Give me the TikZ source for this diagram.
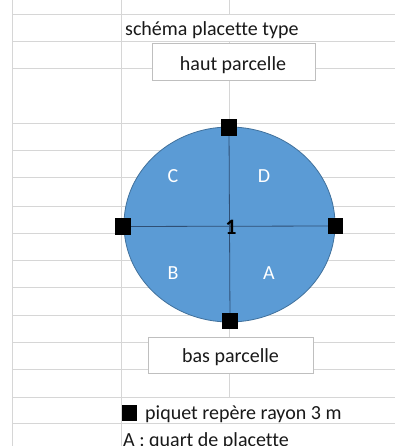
\documentclass[tikz,border=0pt]{standalone}
\usepackage{fontspec}
\setmainfont{Carlito}[Ligatures={NoCommon}]
\usetikzlibrary{shapes.geometric}
\definecolor{gridgray}{HTML}{D6D6D6}
\definecolor{boxgray}{HTML}{BFBFBF}
\definecolor{plotfill}{HTML}{5B9BD5}
\definecolor{plotedge}{HTML}{41719C}
\definecolor{crossline}{HTML}{2F4F75}
\tikzset{
  gridline/.style={draw=gridgray, line width=1pt},
  labelbox/.style={draw=boxgray, fill=white, line width=0.8pt, inner sep=0pt},
  sheettext/.style={font=\fontsize{20}{24}\selectfont, inner sep=0pt, text=black!90},
  quarter/.style={font=\fontsize{20}{24}\selectfont, inner sep=0pt, text=white},
  stake/.style={fill=black, draw=none, minimum width=15pt, minimum height=16pt, inner sep=0pt},
}
\begin{document}
\begin{tikzpicture}[x=1pt, y=-1pt]
\useasboundingbox (0,0) rectangle (395,446);
\fill[white] (0,0) rectangle (395,446);
\clip (0,0) rectangle (395,446);

% spreadsheet grid
\foreach \yy in {15,42,69,124,151,178,206,233,260,287,315,342,369,397,423}
  \draw[gridline] (12,\yy) -- (395,\yy);
\draw[gridline] (12,0) -- (12,446);
\draw[gridline] (121,0) -- (121,446);
\draw[gridline] (229.5,0) -- (229.5,15);
\draw[gridline] (229.5,42) -- (229.5,397);

% title cell
\node[sheettext, anchor=base west] (title) at (125,35.7) {schéma placette type};

% top and bottom labels
\node[labelbox, minimum width=163pt, minimum height=37pt] (haut) at (233.5,61.5) {};
\node[sheettext, anchor=base] (hauttxt) at (233,71) {haut parcelle};
\node[labelbox, minimum width=165pt, minimum height=36pt] (bas) at (230.5,355) {};
\node[sheettext, anchor=base] (bastxt) at (230.5,362) {bas parcelle};

% plot circle
\node[ellipse, fill=plotfill, draw=plotedge, line width=0.8pt,
      minimum width=211pt, minimum height=195pt, inner sep=0pt] (plot) at (229.5,224.5) {};

% stakes
\node[stake] (sN) at (229,127.5) {};
\node[stake] (sS) at (230,321) {};
\node[stake] (sW) at (123,226.5) {};
\node[stake] (sE) at (335.5,226) {};

% cross through the centre, drawn between the stakes
\draw[crossline, line width=0.8pt] (sW.center) -- (sE.center);
\draw[crossline, line width=0.8pt] (sN.center) -- (sS.center);
\fill[black] (sN.south west) rectangle (sN.north east);
\fill[black] (sS.south west) rectangle (sS.north east);
\fill[black] (sW.south west) rectangle (sW.north east);
\fill[black] (sE.south west) rectangle (sE.north east);

% quarter labels
\node[quarter] (qC) at (173,176) {C};
\node[quarter] (qD) at (264,176) {D};
\node[quarter] (qB) at (173,273) {B};
\node[quarter] (qA) at (269,273) {A};
\node[inner sep=0pt, font=\fontsize{22}{26}\selectfont\bfseries, text=black] (one) at (231,227) {1};

% legend
\node[stake] (lgsq) at (129.5,413) {};
\node[sheettext, anchor=base west] (lg1) at (145,419) {piquet repère rayon 3 m};
\node[sheettext, anchor=base west] (lg2) at (123,446.5) {A : quart de placette};
\end{tikzpicture}
\end{document}
